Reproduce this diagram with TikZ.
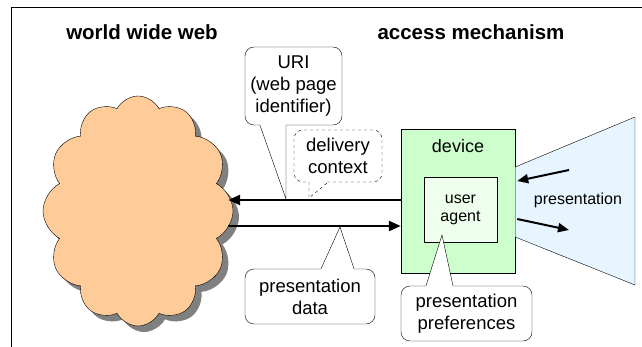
\documentclass[tikz,border=0pt]{standalone}
\usepackage{fontspec}
\setmainfont{Liberation Sans}
\usepackage{xcolor}
\usepackage{tikz}
\usetikzlibrary{shapes.symbols,shadows,arrows.meta}

\definecolor{cloudPeach}{HTML}{FFCC99}
\definecolor{deviceGreen}{HTML}{CCFFCC}
\definecolor{agentGreen}{HTML}{EEFFEE}
\definecolor{screenBlue}{HTML}{E6F5FF}

% tail of a speech bubble: anchor, left and right offsets, tip, inward shift
\newcommand{\bubbleTail}[6][]{%
    \fill[white] ([xshift=#3, yshift=#6]#2) -- (#5) -- ([xshift=#4, yshift=#6]#2) -- cycle;
    \draw[#1] ([xshift=#3]#2) -- (#5) -- ([xshift=#4]#2);
}

\begin{document}
\begin{tikzpicture}[
        x=1pt, y=-1pt,
        headText/.style={font=\fontsize{20.5}{24}\selectfont\bfseries},
        bubble/.style={rectangle, rounded corners=9pt, draw, fill=white,
        font=\fontsize{18.5}{22}\selectfont, align=center, inner sep=0pt},
        cloudNode/.style={cloud, cloud puffs=12, cloud puff arc=125,
        cloud ignores aspect, draw, fill=cloudPeach, inner sep=0pt},
        deviceBox/.style={rectangle, draw, fill=deviceGreen, inner sep=0pt},
        agentBox/.style={rectangle, draw, fill=agentGreen, inner sep=0pt,
        font=\fontsize{16}{18}\selectfont, align=center},
        dataArrow/.style={line width=2.4pt, -{Triangle[length=12pt,width=10pt]}},
        viewArrow/.style={line width=2pt, -{Triangle[length=11pt,width=9pt]}},
    ]
    \useasboundingbox (0,0) rectangle (642,347);
    \draw[line width=0.8pt] (11,347) -- (11,7) -- (642,7);

    \node[headText] (wwwTitle)    at (142,32) {world wide web};
    \node[headText] (accessTitle) at (471,32) {access mechanism};

    % grey shadow first, then the cloud itself
    \node[cloudNode, draw=none, fill=black!50, minimum width=190pt, minimum height=230pt] (webShadow) at (144,217) {};
    \node[cloudNode, minimum width=190pt, minimum height=230pt] (web) at (138,211) {};

    \node[deviceBox, minimum width=114pt, minimum height=144pt] (device) at (458,201) {};
    \node[font=\fontsize{18}{20}\selectfont, anchor=north] (deviceLabel) at ([yshift=-7pt]device.north) {device};
    \node[agentBox, minimum width=73pt, minimum height=65pt] (agent) at (460.5,209.5) {user\\agent};

    % the screen the user looks at
    \draw[fill=screenBlue] ([yshift=34pt]device.east) -- (635,117) -- (635,285)
        -- ([yshift=-36pt]device.east) -- cycle;
    \node[font=\fontsize{16}{18}\selectfont] (screenLabel) at (578,200) {presentation};
    \coordinate (eyeIn)  at (569,170);
    \coordinate (eyeOut) at (569,230);
    \draw[viewArrow] (eyeIn) -- ([xshift=2pt, yshift=20pt]device.east);
    \draw[viewArrow] ([xshift=2pt, yshift=-18pt]device.east) -- (eyeOut);

    % request and response
    \draw[dataArrow] ([yshift=1pt]device.west) -- ([xshift=-5pt, yshift=1pt]device.west -| web.east);
    \draw[dataArrow] ([xshift=-5pt, yshift=-25pt]device.west -| web.east) -- ([yshift=-25pt]device.west);

    \coordinate (uriTip)      at (286,199);
    \coordinate (contextTip)  at (309,198);
    \coordinate (dataTip)     at (340,227);
    \coordinate (prefTip)     at (442,235);

    \node[bubble, minimum width=97pt, minimum height=78pt] (uri) at (293.5,86) {URI\\(web page\\identifier)};
    \bubbleTail{uri.south}{-33.5pt}{-7.5pt}{uriTip}{1pt}

    \node[bubble, dashed, minimum width=88pt, minimum height=52pt] (context) at (338,156) {delivery\\context};
    \bubbleTail[dashed]{context.south}{-29pt}{-10pt}{contextTip}{1pt}

    \node[bubble, minimum width=130pt, minimum height=55pt] (presData) at (310,296.5) {presentation\\data};
    \bubbleTail{presData.north}{11pt}{44pt}{dataTip}{-1pt}

    \node[bubble, minimum width=131pt, minimum height=55pt] (prefs) at (466.5,313.5) {presentation\\preferences};
    \bubbleTail{prefs.north}{-40.5pt}{-13.5pt}{prefTip}{-1pt}
\end{tikzpicture}
\end{document}
